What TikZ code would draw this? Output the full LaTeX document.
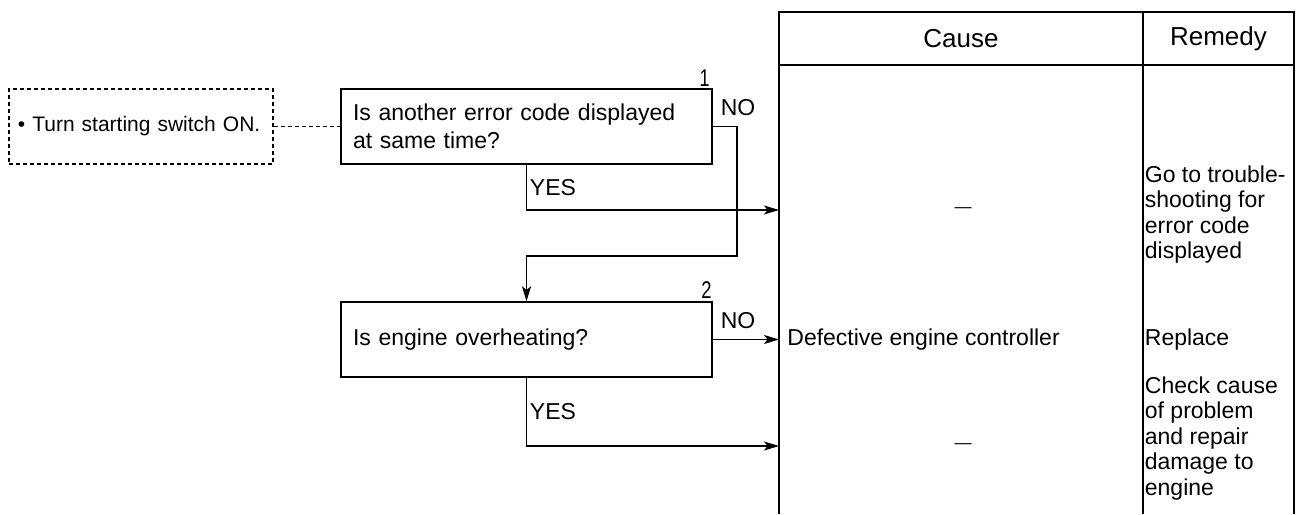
\documentclass[tikz,border=0pt]{standalone}
\usepackage{fontspec}
\setmainfont{Liberation Sans}
\usepackage{graphicx}
\usetikzlibrary{arrows.meta}
\begin{document}
\begin{tikzpicture}[x=0.5pt,y=-0.5pt,
  every node/.style={inner sep=0pt, font=\fontsize{11.5pt}{14pt}\selectfont},
  ln/.style={line width=0.7pt},
  arr/.style={ln,-{Stealth[length=7.5pt,width=4.5pt,inset=1.8pt]}},
  dashln/.style={line width=0.65pt,dash pattern=on 2pt off 1.5pt},
  qbox/.style={draw,ln,minimum width=185.5pt,minimum height=37.5pt,inner xsep=6pt,inner ysep=0pt,text width=173.5pt,align=left},
  prebox/.style={draw,dashln,minimum width=132pt,minimum height=37.5pt,inner xsep=4.5pt,inner ysep=0pt,text width=123pt,align=left,font=\fontsize{10.5pt}{13pt}\selectfont},
  numlbl/.style={anchor=south east},
  yn/.style={},
  remedy/.style={anchor=north west,align=left,font=\fontsize{11.5pt}{12.8pt}\selectfont},
  head/.style={font=\fontsize{13pt}{15pt}\selectfont},
  dashmark/.style={font=\fontsize{8.5pt}{10pt}\selectfont}]
\useasboundingbox (0,0) rectangle (1301,514);

% table
\coordinate (tTL) at (779,12);
\coordinate (tTR) at (1294,12);
\coordinate (tBL) at (779,514);
\coordinate (tBR) at (1294,514);
\coordinate (tDivT) at (1143,12);
\coordinate (tDivB) at (1143,514);
\coordinate (tHL) at (779,65);
\coordinate (tHR) at (1294,65);
\draw[ln] (tBL) -- (tTL) -- (tTR) -- (tBR);
\draw[ln] (tHL) -- (tHR);
\draw[ln] (tDivT) -- (tDivB);
\node[head] (hcause) at (961,39) {Cause};
\node[head] (hremedy) at (1218.5,39) {Remedy};

% boxes
\node[prebox] (pre) at (141,126.5) {• Turn starting switch ON.};
\node[qbox] (q1) at (526.5,126.5) {Is another error code displayed\\at same time?};
\node[qbox] (q2) at (526.5,339.5) {Is engine overheating?};
\node[numlbl] (n1) at (710,87) {\scalebox{0.78}[1.05]{1}};
\node[numlbl] (n2) at (712,299) {\scalebox{0.8}[1.05]{2}};
\draw[dashln] (pre.east) -- (q1.west);

% connectors
\coordinate (c1) at (737,256);
\coordinate (e1) at (779,210);
\coordinate (e3) at (779,446);
\draw[arr] (q1.south) |- (e1);
\draw[arr] (q1.east) -| (c1) -| (q2.north);
\draw[arr] (q2.east) -- (q2.east -| tTL);
\draw[arr] (q2.south) |- (e3);
\node[yn] (no1) at (738,108) {NO};
\node[yn] (yes1) at (553,188) {YES};
\node[yn] (no2) at (738,321) {NO};
\node[yn] (yes2) at (553,412) {YES};

% table contents
\node[dashmark] (d1) at (963,210) {—};
\node[dashmark] (d3) at (963,446) {—};
\node[anchor=west] (cause2) at (787,339.5) {Defective engine controller};
\node[remedy] (r1) at (1144.5,165) {Go to trouble-\\shooting for\\error code\\displayed};
\node[anchor=west] (r2) at (1144.5,339.5) {Replace};
\node[remedy] (r3) at (1144.5,376) {Check cause\\of problem\\and repair\\damage to\\engine};
\end{tikzpicture}
\end{document}
